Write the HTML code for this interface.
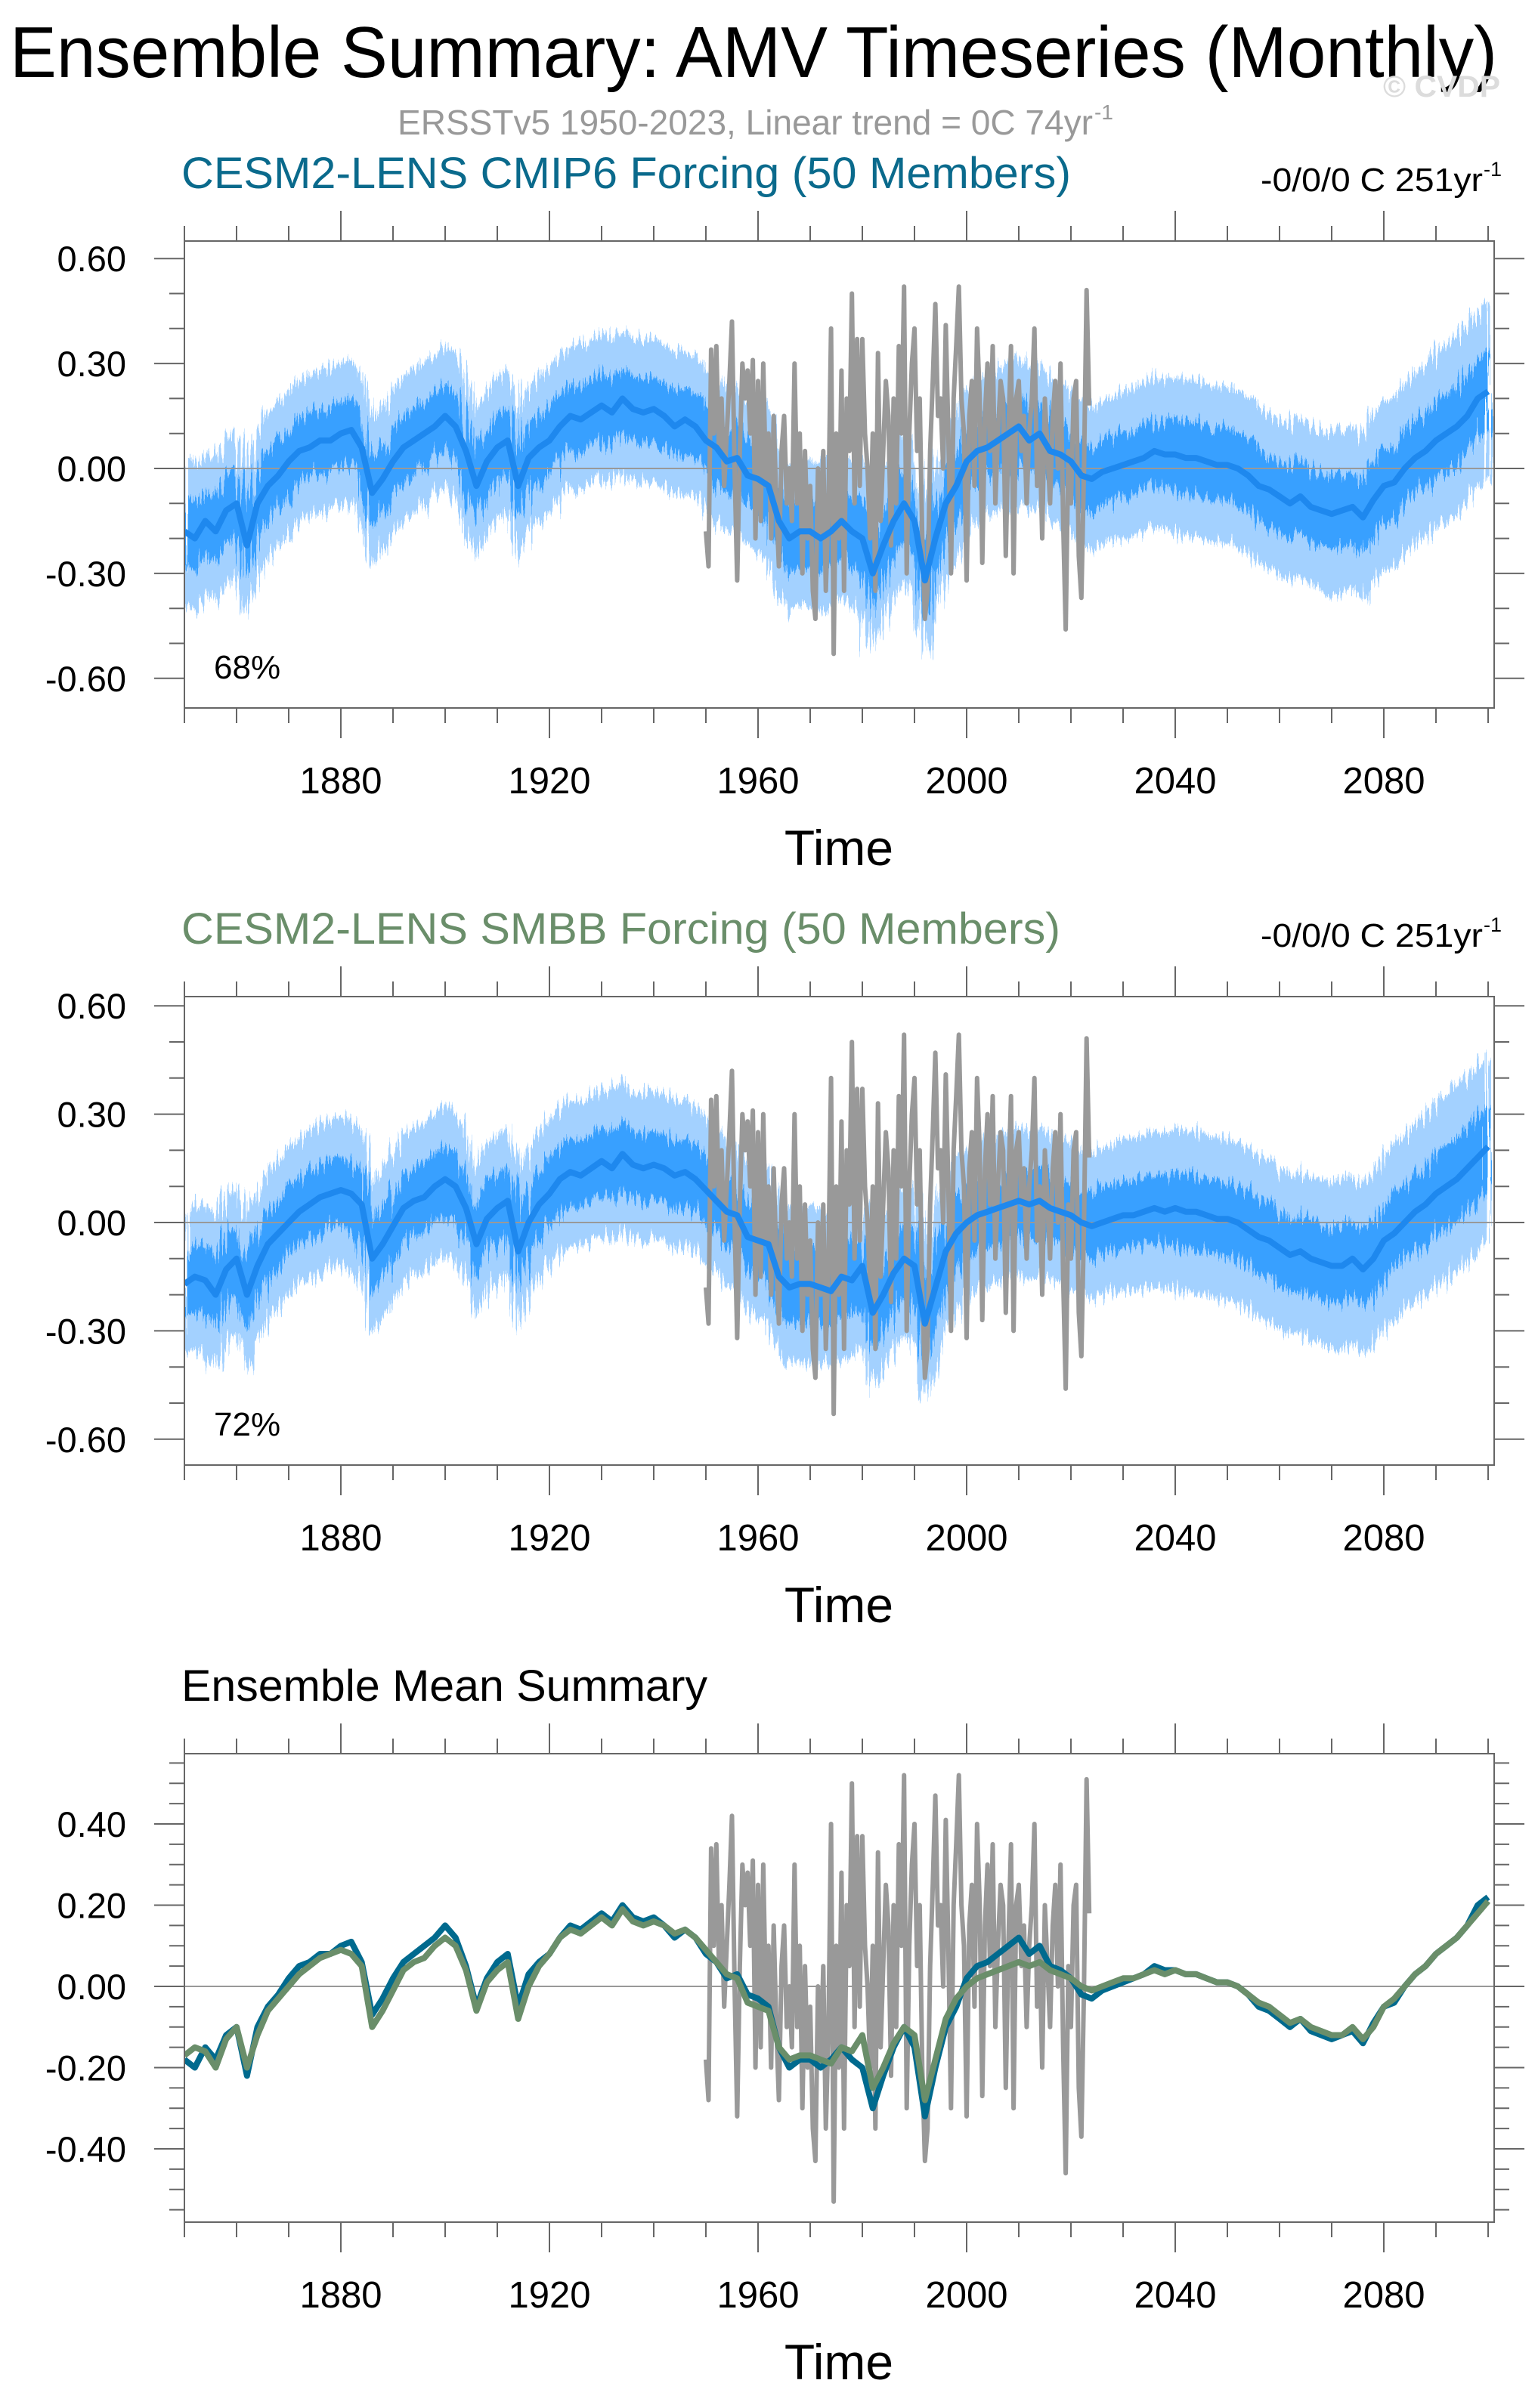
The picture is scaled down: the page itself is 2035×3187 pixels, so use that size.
<!DOCTYPE html>
<html><head><meta charset="utf-8"><title>AMV Ensemble Summary</title>
<style>
html,body{margin:0;padding:0;background:#fff;}
svg{display:block;font-family:"Liberation Sans",Arial,sans-serif;}
</style></head>
<body>
<svg id="chart" width="2035" height="3187" viewBox="0 0 2035 3187" xmlns="http://www.w3.org/2000/svg">
  <defs>
    <filter id="spiky" x="-2%" y="-20%" width="104%" height="140%">
      <feTurbulence type="fractalNoise" baseFrequency="0.35 0.004" numOctaves="2" seed="3" result="n"/>
      <feDisplacementMap in="SourceGraphic" in2="n" scale="44" xChannelSelector="A" yChannelSelector="R"/>
    </filter>
  </defs>
  <rect width="2035" height="3187" fill="#fff"/>
  <text x="13" y="102" font-size="96" fill="#000" textLength="1968" lengthAdjust="spacingAndGlyphs">Ensemble Summary: AMV Timeseries (Monthly)</text>
  <text x="1830" y="128" font-size="40" font-weight="bold" fill="#dcdcdc" textLength="155" lengthAdjust="spacingAndGlyphs">© CVDP</text>
  <text x="526" y="178" font-size="46" fill="#999" textLength="920" lengthAdjust="spacingAndGlyphs">ERSSTv5 1950-2023, Linear trend = 0C 74yr</text>
  <text x="1448" y="158" font-size="28" fill="#999">-1</text>
  <g id="panels"></g>
</svg>
<script>
// ---- data (2-year resolution, 1850..2100) ----
var modelYearStart = 1850;
var modelYearStep = 2;
var cmip6Mean = [
 -0.18,-0.20,-0.15,-0.18,-0.12, -0.10,-0.22,-0.10,-0.05,-0.02,
 0.02,0.05,0.06,0.08,0.08, 0.10,0.11,0.06,-0.07,-0.03,
 0.02,0.06,0.08,0.10,0.12, 0.15,0.12,0.05,-0.05,0.02,
 0.06,0.08,-0.05,0.03,0.06, 0.08,0.12,0.15,0.14,0.16,
 0.18,0.16,0.20,0.17,0.16, 0.17,0.15,0.12,0.14,0.12,
 0.08,0.06,0.02,0.03,-0.02, -0.03,-0.05,-0.15,-0.20,-0.18,
 -0.18,-0.20,-0.18,-0.15,-0.18, -0.20,-0.30,-0.22,-0.15,-0.10,
 -0.15,-0.32,-0.20,-0.10,-0.05, 0.02,0.05,0.06,0.08,0.10,
 0.12,0.08,0.10,0.05,0.04, 0.02,-0.02,-0.03,-0.01,0.00,
 0.01,0.02,0.03,0.05,0.04, 0.04,0.03,0.03,0.02,0.01,
 0.01,0.00,-0.02,-0.05,-0.06, -0.08,-0.10,-0.08,-0.11,-0.12,
 -0.13,-0.12,-0.11,-0.14,-0.09, -0.05,-0.04,0.00,0.03,0.05,
 0.08,0.10,0.12,0.15,0.20, 0.22];
var smbbMean = [
 -0.17,-0.15,-0.16,-0.20,-0.13, -0.10,-0.20,-0.12,-0.06,-0.03,
 0.00,0.03,0.05,0.07,0.08, 0.09,0.08,0.05,-0.10,-0.06,
 -0.01,0.04,0.06,0.07,0.10, 0.12,0.10,0.04,-0.06,0.01,
 0.04,0.06,-0.08,0.00,0.05, 0.08,0.12,0.14,0.13,0.15,
 0.17,0.15,0.19,0.16,0.15, 0.16,0.15,0.13,0.14,0.12,
 0.09,0.06,0.03,0.02,-0.04, -0.05,-0.06,-0.15,-0.18,-0.17,
 -0.17,-0.18,-0.19,-0.15,-0.16, -0.12,-0.25,-0.20,-0.14,-0.10,
 -0.12,-0.28,-0.18,-0.08,-0.03, 0.00,0.02,0.03,0.04,0.05,
 0.06,0.05,0.06,0.04,0.03, 0.02,0.00,-0.01,0.00,0.01,
 0.02,0.02,0.03,0.04,0.03, 0.04,0.03,0.03,0.02,0.01,
 0.01,0.00,-0.02,-0.04,-0.05, -0.07,-0.09,-0.08,-0.10,-0.11,
 -0.12,-0.12,-0.10,-0.13,-0.10, -0.05,-0.03,0.00,0.03,0.05,
 0.08,0.10,0.12,0.15,0.18, 0.21];
// ensemble spread half-widths per decade 1850..2100
var spreadDecadeStart = 1850;
var innerSpread = [0.09,0.09,0.09,0.09,0.09,0.09,0.09,0.09,0.09,0.09,0.09,0.10,0.10,0.10,0.10,0.09,0.09,0.09,0.09,0.10,0.10,0.10,0.10,0.10,0.11,0.11];
var outerSpread = [0.20,0.20,0.20,0.20,0.20,0.20,0.20,0.20,0.20,0.20,0.20,0.21,0.21,0.21,0.21,0.20,0.20,0.20,0.21,0.22,0.22,0.22,0.23,0.24,0.25,0.25];
// ERSSTv5 observations, half-year resolution 1950..2023.5
var obsYearStart = 1950;
var obsYearStep = 0.5;
var obsValues = [
 -0.18,-0.28, 0.34,0.10, 0.35,0.05, 0.20,-0.05, 0.10,0.25, 0.42,0.00, -0.32,0.05, 0.30,0.20, 0.28,0.10, 0.31,-0.20,
 0.25,-0.15, 0.30,-0.05, 0.10,-0.20, 0.15,-0.10, -0.28,0.05, 0.15,-0.10, 0.00,-0.15, 0.30,-0.10, 0.10,-0.30, 0.05,-0.20,
 -0.05,-0.35, -0.43,0.00, -0.20,0.05, -0.35,-0.10, 0.40,-0.53, 0.10,-0.20, 0.28,-0.35, 0.20,0.05, 0.50,-0.10, 0.37,-0.05,
 0.37,0.10, 0.00,-0.20, 0.10,-0.35, 0.33,-0.15, 0.05,0.25, 0.15,-0.22, 0.20,-0.10, 0.35,0.10, 0.52,-0.30, 0.10,0.30,
 0.40,0.05, 0.20,-0.20, -0.43,-0.35, 0.05,0.25, 0.47,0.15, 0.20,0.00, 0.41,0.10, -0.30,0.20, 0.35,0.52, 0.20,0.10,
 -0.32,0.15, 0.25,-0.05, 0.40,0.20, -0.27,0.15, 0.30,0.05, 0.35,-0.10, 0.10,0.25, 0.20,-0.25, 0.10,0.35, -0.30,0.20,
 0.25,0.05, 0.15,-0.10, 0.10,0.20, 0.40,-0.05, 0.10,-0.20, 0.20,0.05, -0.10,0.15, 0.25,0.00, 0.30,-0.15, -0.46,0.05,
 -0.10,0.20, 0.25,-0.25, -0.37,0.00, 0.51,0.18];
var xTickYears = [1880,1920,1960,2000,2040,2080];
var yTicksTop = [0.60,0.30,0.00,-0.30,-0.60];
var yTicksBottom = [0.40,0.20,0.00,-0.20,-0.40];

var NS = "http://www.w3.org/2000/svg";
var root = document.getElementById('panels');
function mk(tag, attrs, parent){
  var e = document.createElementNS(NS, tag);
  for (var k in attrs) e.setAttribute(k, attrs[k]);
  (parent||root).appendChild(e);
  return e;
}
var X0 = 244, X1 = 1977, YR0 = 1850, PXYR = 6.9;
function xs(yr){ return X0 + (yr - YR0) * PXYR; }
function spreadAt(arr, yr){ var i = Math.min(arr.length-1, Math.max(0, Math.floor((yr - spreadDecadeStart)/10))); return arr[i]; }

function panel(cfg){
  var g = mk('g', {});
  
  
  var top = cfg.top, bot = cfg.bot;
  function ys(v){ return cfg.y0 - v * cfg.pxu; }
  var t = mk('text', {x: 240, y: top - 70, 'font-size': cfg.titleSize, fill: cfg.titleColor, textLength: cfg.titleLen, lengthAdjust: 'spacingAndGlyphs'}, g);
  t.textContent = cfg.title;
  
  
  if (cfg.trend) {
    var tr = mk('text', {x: 1668, y: top - 66, 'font-size': 44, fill: '#000', textLength: 294, lengthAdjust: 'spacingAndGlyphs'}, g);
    tr.textContent = '-0/0/0 C 251yr';
    
    
    var te = mk('text', {x: 1963, y: top - 86, 'font-size': 27, fill: '#000'}, g);
    te.textContent = '-1';
    
    
  }
  var cid = 'clip' + cfg.name;
  var cp = mk('clipPath', {id: cid}, g);
  mk('rect', {x: X0, y: top, width: X1 - X0, height: bot - top}, cp);
  var pg = mk('g', {'clip-path': 'url(#' + cid + ')'}, g);
  function linePath(vals, start, step){
    var d = '';
    for (var i = 0; i < vals.length; i++) d += (i ? 'L' : 'M') + xs(start + i*step).toFixed(1) + ' ' + ys(vals[i]).toFixed(1);
    return d;
  }
  function bandPath(mean, arr){
    var up = '', dn = [];
    for (var i = 0; i < mean.length; i++) {
      var yr = modelYearStart + i*modelYearStep, s = spreadAt(arr, yr);
      up += (i ? 'L' : 'M') + xs(yr).toFixed(1) + ' ' + ys(mean[i] + s).toFixed(1);
      dn.push('L' + xs(yr).toFixed(1) + ' ' + ys(mean[i] - s).toFixed(1));
    }
    return up + dn.reverse().join('') + 'Z';
  }
  if (cfg.bands) {
    var bg = mk('g', {filter: 'url(#spiky)'}, pg);
    var ob = mk('path', {d: bandPath(cfg.bands, outerSpread), fill: '#a3d1ff', stroke: '#a3d1ff', 'stroke-width': 3}, bg);
    
    
    var ib = mk('path', {d: bandPath(cfg.bands, innerSpread), fill: '#38a0ff', stroke: '#38a0ff', 'stroke-width': 3}, bg);
    
    
  }
  var zl = mk('line', {x1: X0, x2: X1, y1: ys(0), y2: ys(0), stroke: '#999', 'stroke-width': 2}, pg);
  
  
  var obs = mk('path', {d: linePath(obsValues, obsYearStart, obsYearStep), fill: 'none', stroke: '#999', 'stroke-width': 6, 'stroke-linejoin': 'round'}, pg);
  
  
  cfg.lines.forEach(function(L){
    var p = mk('path', {d: linePath(L.vals, modelYearStart, modelYearStep), fill: 'none', stroke: L.color, 'stroke-width': L.w, 'stroke-linejoin': 'round'}, pg);
    
    
  });
  var fr = mk('rect', {x: X0, y: top, width: X1 - X0, height: bot - top, fill: 'none', stroke: '#666', 'stroke-width': 2}, g);
  
  
  for (var yr = 1850; yr <= 2100; yr += 10) {
    var maj = xTickYears.indexOf(yr) >= 0, len = maj ? 40 : 20;
    mk('line', {x1: xs(yr), x2: xs(yr), y1: bot, y2: bot + len, stroke: '#666', 'stroke-width': 2}, g);
    mk('line', {x1: xs(yr), x2: xs(yr), y1: top, y2: top - len, stroke: '#666', 'stroke-width': 2}, g);
  }
  xTickYears.forEach(function(yr){
    var tl = mk('text', {x: xs(yr), y: bot + 113, 'font-size': 49, 'text-anchor': 'middle', fill: '#000'}, g);
    tl.textContent = String(yr);
    
    
  });
  var xt = mk('text', {x: 1110, y: bot + 208, 'font-size': 66, 'text-anchor': 'middle', fill: '#000'}, g);
  xt.textContent = 'Time';
  
  
  var vmax = (cfg.y0 - top) / cfg.pxu, vmin = (cfg.y0 - bot) / cfg.pxu;
  var nmin = Math.ceil(vmin / cfg.minor - 1e-6), nmax = Math.floor(vmax / cfg.minor + 1e-6);
  for (var n = nmin; n <= nmax; n++) {
    var v = n * cfg.minor, y = ys(v);
    var isMaj = cfg.yTicks.some(function(t){ return Math.abs(t - v) < 1e-6; });
    var len2 = isMaj ? 40 : 20;
    mk('line', {x1: X0 - len2, x2: X0, y1: y, y2: y, stroke: '#666', 'stroke-width': 2}, g);
    mk('line', {x1: X1, x2: X1 + len2, y1: y, y2: y, stroke: '#666', 'stroke-width': 2}, g);
  }
  cfg.yTicks.forEach(function(v){
    var yl = mk('text', {x: 167, y: ys(v) + 17, 'font-size': 47, 'text-anchor': 'end', fill: '#000'}, g);
    yl.textContent = v.toFixed(2);
    
    
  });
  if (cfg.pct) {
    var pc = mk('text', {x: 283, y: cfg.pctY, 'font-size': 44, fill: '#000'}, g);
    pc.textContent = cfg.pct;
    
    
  }
}

panel({name: 'cmip6-panel', top: 319, bot: 937, y0: 620, pxu: 463, minor: 0.1, yTicks: yTicksTop,
  title: 'CESM2-LENS CMIP6 Forcing (50 Members)', titleColor: '#0a6a8c', titleSize: 58, titleLen: 1177, trend: true,
  bands: cmip6Mean, lines: [{vals: cmip6Mean, color: '#1e88ee', w: 8, name: 'cmip6-ensemble-mean-line'}], pct: '68%', pctY: 898});
panel({name: 'smbb-panel', top: 1319, bot: 1939, y0: 1618, pxu: 478, minor: 0.1, yTicks: yTicksTop,
  title: 'CESM2-LENS SMBB Forcing (50 Members)', titleColor: '#6a8e6a', titleSize: 58, titleLen: 1163, trend: true,
  bands: smbbMean, lines: [{vals: smbbMean, color: '#1e88ee', w: 8, name: 'smbb-ensemble-mean-line'}], pct: '72%', pctY: 1900});
panel({name: 'ensemble-mean-panel', top: 2321, bot: 2941, y0: 2629, pxu: 537.5, minor: 0.05, yTicks: yTicksBottom,
  title: 'Ensemble Mean Summary', titleColor: '#000', titleSize: 58, titleLen: 696, trend: false,
  bands: null, lines: [{vals: cmip6Mean, color: '#006a8e', w: 8, name: 'cmip6-mean-line'}, {vals: smbbMean, color: '#6a8e6a', w: 8, name: 'smbb-mean-line'}]});
</script>
</body></html>
